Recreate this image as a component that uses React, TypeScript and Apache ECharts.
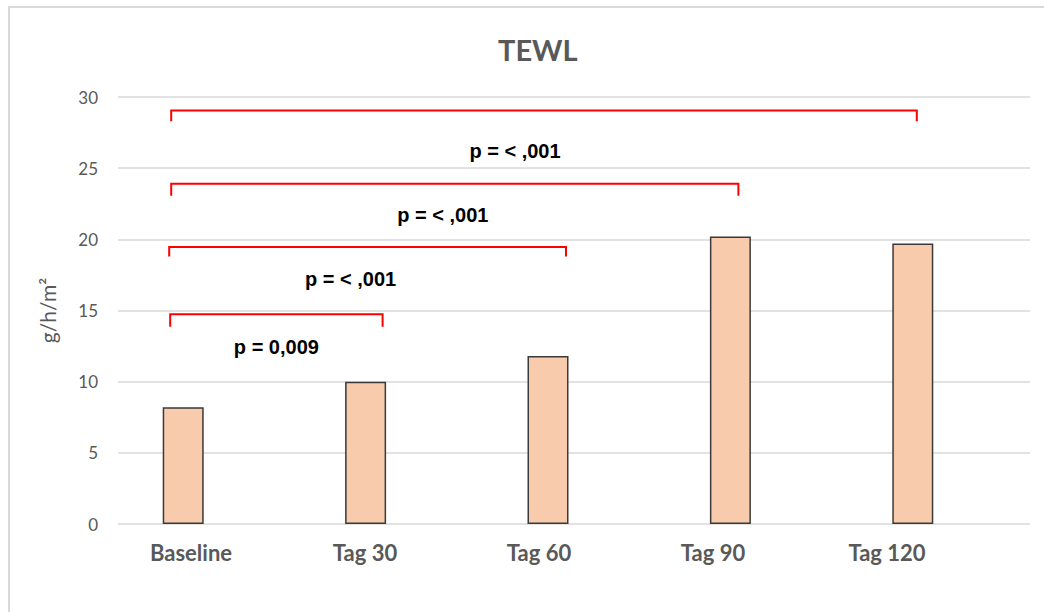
import React, { useEffect, useRef } from "react";
import * as echarts from "echarts";

// Measurement days and mean TEWL (g/h/m²)
const categories = ["Baseline", "Tag 30", "Tag 60", "Tag 90", "Tag 120"];
const tewlValues = [8.2, 10.0, 11.8, 20.2, 19.7];

// Y axis ticks
const yMin = 0;
const yMax = 30;
const yStep = 5;

// Significance brackets: from category, to category, bracket level, leg bottom, label position
const bracketFrom = [0, 0, 0, 0];
const bracketTo = [1, 2, 3, 4];
const bracketLevel = [14.73, 19.46, 23.9, 29.06];
const bracketLegBottom = [13.85, 18.8, 23.07, 28.29];
const bracketLabelLevel = [12.45, 17.23, 21.73, 26.23];
const bracketLabels = ["p = 0,009", "p = < ,001", "p = < ,001", "p = < ,001"];

// Pixel nudges of bracket ends and labels (drawing style)
const bracketLeftNudge = [-13, -14, -12, -12];
const bracketRightNudge = [17, 18, 8, 4];
const labelNudge = [0, -17, -12, -29];

const FONT = "Lato, 'Open Sans', sans-serif";

export default function App() {
  const ref = useRef<HTMLDivElement>(null);

  useEffect(() => {
    document.body.style.margin = "0";
    if (!ref.current) return;
    const chart = echarts.init(ref.current, undefined, { renderer: "svg" });

    const bracketData = bracketFrom.map((f, i) => [
      f,
      bracketTo[i],
      bracketLevel[i],
      bracketLegBottom[i],
      bracketLabelLevel[i],
      i,
    ]);

    chart.setOption({
      animation: false,
      backgroundColor: "#ffffff",
      title: {
        text: "TEWL",
        left: 493,
        top: 30,
        textStyle: {
          fontFamily: FONT,
          fontWeight: "bold",
          fontSize: 29,
          color: "#595959",
        },
      },
      graphic: [
        {
          type: "rect",
          shape: { x: 9, y: 7, width: 1060, height: 640 },
          style: { fill: "none", stroke: "#d9d9d9", lineWidth: 2 },
          silent: true,
        },
      ],
      grid: [
        // gridlines and value labels
        { left: 118, right: 14, top: 97, bottom: 88 },
        // bars and brackets
        { left: 92, right: 40, top: 97, bottom: 88 },
        // category labels
        { left: 104, right: 70, top: 97, bottom: 88 },
      ],
      xAxis: [
        { gridIndex: 0, type: "category", data: categories, show: false },
        { gridIndex: 1, type: "category", data: categories, show: false },
        {
          gridIndex: 2,
          type: "category",
          data: categories,
          axisLine: { show: false },
          axisTick: { show: false },
          axisLabel: {
            margin: 17,
            fontFamily: FONT,
            fontWeight: "bold",
            fontSize: 22,
            color: "#595959",
          },
        },
      ],
      yAxis: [
        {
          gridIndex: 0,
          type: "value",
          min: yMin,
          max: yMax,
          interval: yStep,
          name: "g/h/m²",
          nameLocation: "middle",
          nameRotate: 90,
          nameGap: 60,
          nameTextStyle: { fontFamily: FONT, fontSize: 21, color: "#595959" },
          axisLine: { show: false },
          axisTick: { show: false },
          axisLabel: { margin: 20, fontFamily: FONT, fontSize: 17, color: "#595959" },
          splitLine: { lineStyle: { color: "#d9d9d9", width: 1.5 } },
        },
        {
          gridIndex: 1,
          type: "value",
          min: yMin,
          max: yMax,
          interval: yStep,
          show: false,
          splitLine: { show: false },
        },
        {
          gridIndex: 2,
          type: "value",
          min: yMin,
          max: yMax,
          interval: yStep,
          show: false,
          splitLine: { show: false },
        },
      ],
      series: [
        {
          type: "bar",
          xAxisIndex: 1,
          yAxisIndex: 1,
          data: tewlValues,
          barWidth: 41,
          itemStyle: {
            color: "#f8cbad",
            borderColor: "#3a3a3a",
            borderWidth: 1.5,
          },
        },
        {
          type: "custom",
          xAxisIndex: 1,
          yAxisIndex: 1,
          data: bracketData,
          z: 5,
          renderItem: (_params: any, api: any) => {
            const from = api.value(0);
            const to = api.value(1);
            const level = api.value(2);
            const legBottom = api.value(3);
            const labelLevel = api.value(4);
            const i = api.value(5);
            const pL = api.coord([from, level]);
            const pR = api.coord([to, level]);
            const pB = api.coord([from, legBottom]);
            const pT = api.coord([from, labelLevel]);
            const xL = pL[0] + bracketLeftNudge[i];
            const xR = pR[0] + bracketRightNudge[i];
            return {
              type: "group",
              children: [
                {
                  type: "polyline",
                  shape: {
                    points: [
                      [xL, pB[1]],
                      [xL, pL[1]],
                      [xR, pR[1]],
                      [xR, pB[1]],
                    ],
                  },
                  style: { stroke: "#ff0000", lineWidth: 2, fill: "none" },
                },
                {
                  type: "text",
                  style: {
                    text: bracketLabels[i],
                    x: (xL + xR) / 2 + labelNudge[i],
                    y: pT[1],
                    align: "center",
                    verticalAlign: "middle",
                    fontFamily: "'Liberation Sans', Arial, sans-serif",
                    fontWeight: "bold",
                    fontSize: 20,
                    fill: "#000000",
                  },
                },
              ],
            };
          },
        },
      ],
    });

    return () => chart.dispose();
  }, []);

  return <div ref={ref} style={{ width: 1044, height: 612 }} />;
}
